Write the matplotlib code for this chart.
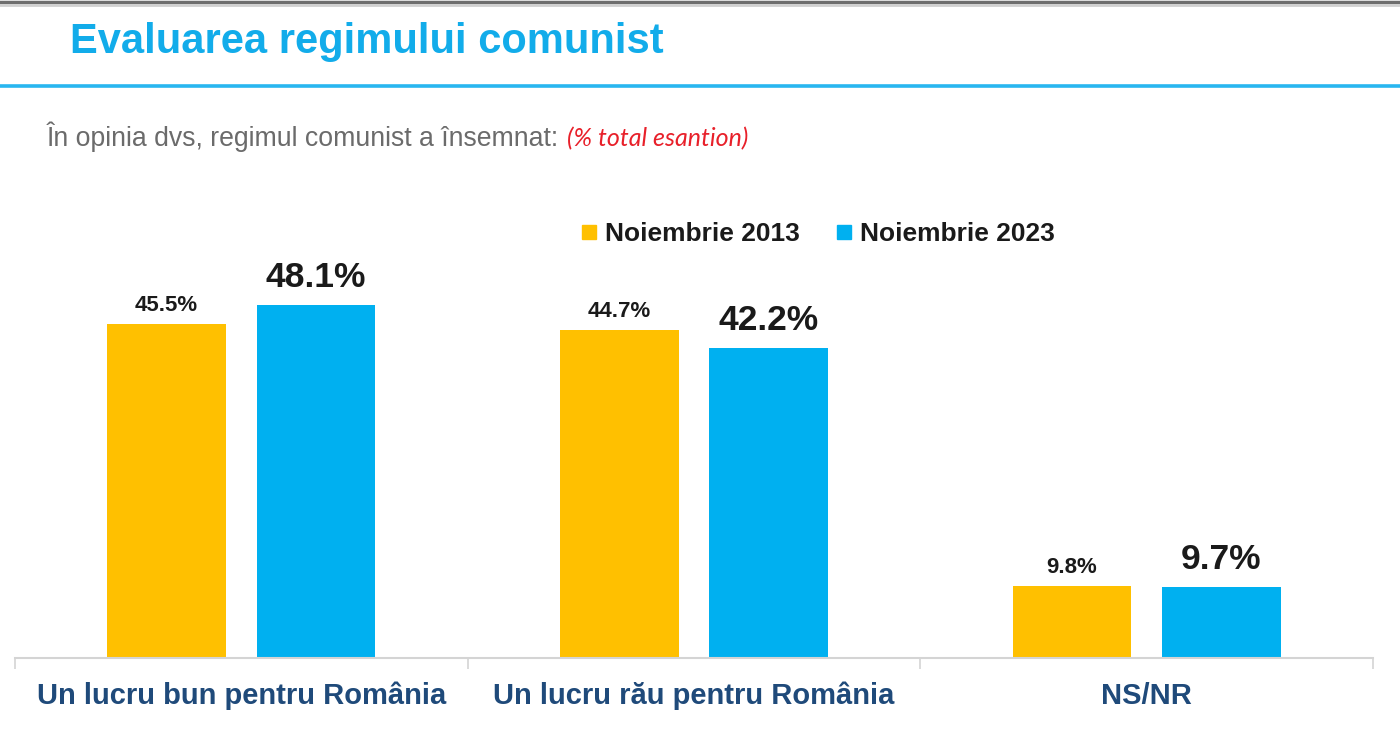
import matplotlib
matplotlib.use("Agg")
import matplotlib.pyplot as plt
from matplotlib.lines import Line2D
import numpy as np

plt.rcParams['font.family'] = ['Liberation Sans', 'DejaVu Sans']

categories = ["Un lucru bun pentru România", "Un lucru rău pentru România", "NS/NR"]
series_names = ["Noiembrie 2013", "Noiembrie 2023"]
values_2013 = [45.5, 44.7, 9.8]
values_2023 = [48.1, 42.2, 9.7]

YELLOW = "#FFC000"
BLUE = "#00B0F0"
NAVY = "#1F4A7A"
TITLE_BLUE = "#12ACEA"

W, H = 1400, 739
fig = plt.figure(figsize=(W / 100, H / 100), dpi=100)

def fx(px):
    return px / W

def fy(py):
    return 1 - py / H

# top border and blue rule
fig.add_artist(Line2D([0, 1], [fy(1.5), fy(1.5)], color="#6E6E6E", lw=2.5, transform=fig.transFigure))
fig.add_artist(Line2D([0, 1], [fy(4.5), fy(4.5)], color="#D0D0D0", lw=2, transform=fig.transFigure))
fig.add_artist(Line2D([0, 1], [fy(85.5), fy(85.5)], color="#29B6F0", lw=2.6, transform=fig.transFigure))

fig.text(fx(70), fy(53), "Evaluarea regimului comunist", fontsize=30, fontweight="bold",
         color=TITLE_BLUE, va="baseline", ha="left")
fig.text(fx(47), fy(146), "În opinia dvs, regimul comunist a însemnat:", fontsize=19.2,
         color="#6B6B6B", va="baseline", ha="left")
fig.text(fx(567), fy(146), "(% total esantion)", fontsize=18, color="#E8202A",
         style="italic", family=["Lato", "DejaVu Sans"], va="baseline", ha="left")

ax = fig.add_axes([fx(15), fy(658), fx(1373) - fx(15), fy(200) - fy(658)])
x = np.arange(len(categories))
bw = 0.262
off = 0.165
b1 = ax.bar(x - off, values_2013, bw, color=YELLOW, label=series_names[0])
b2 = ax.bar(x + off, values_2023, bw, color=BLUE, label=series_names[1])

for rect, v in zip(b1, values_2013):
    ax.annotate(f"{v:.1f}%", (rect.get_x() + rect.get_width() / 2, rect.get_height()),
                xytext=(0, 6), textcoords="offset points", ha="center", va="bottom",
                fontsize=16, fontweight="bold", color="#1A1A1A")
for rect, v in zip(b2, values_2023):
    ax.annotate(f"{v:.1f}%", (rect.get_x() + rect.get_width() / 2, rect.get_height()),
                xytext=(0, 8), textcoords="offset points", ha="center", va="bottom",
                fontsize=25.5, fontweight="bold", color="#1A1A1A")

ax.set_xlim(-0.5, 2.5)
ax.set_ylim(0, 458 / 7.34)
ax.set_yticks([])
for s in ["top", "right", "left"]:
    ax.spines[s].set_visible(False)
ax.spines["bottom"].set_color("#D4D4D4")
ax.spines["bottom"].set_linewidth(1.5)

ax.set_xticks(x)
ax.set_xticklabels(categories, fontsize=21, fontweight="bold", color=NAVY)
ax.tick_params(axis="x", which="major", length=0, pad=17)
ax.set_xticks([-0.5, 0.5, 1.5, 2.5], minor=True)
ax.tick_params(axis="x", which="minor", length=8, width=1.2, color="#D4D4D4")

handles = [Line2D([], [], marker="s", linestyle="none", markersize=10, color=YELLOW),
           Line2D([], [], marker="s", linestyle="none", markersize=10, color=BLUE)]
leg = fig.legend(handles, series_names, loc="center", bbox_to_anchor=(fx(818), fy(234)),
                 ncol=2, frameon=False, handlelength=0.6, handletextpad=0.3,
                 columnspacing=1.4, prop={"size": 19, "weight": "bold"})
for t in leg.get_texts():
    t.set_color("#1A1A1A")

fig.savefig("out.png", dpi=100)
